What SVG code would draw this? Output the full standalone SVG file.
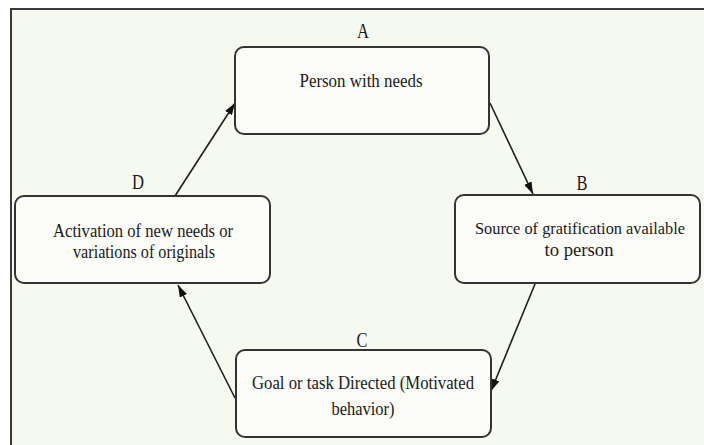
<svg xmlns="http://www.w3.org/2000/svg" width="704" height="445" viewBox="0 0 704 445">
  <defs>
    <style>
      .frame-bg { fill: #f6f9f0; }
      .frame-line { stroke: #3a3a3a; stroke-width: 2; fill: none; }
      .box { fill: #fbfcf7; stroke: #333; stroke-width: 2; }
      .lbl { font-family: "Liberation Serif", "Times New Roman", serif; font-size: 22px; fill: #1a1a1a; text-anchor: middle; }
      .txt { font-family: "Liberation Serif", "Times New Roman", serif; font-size: 18px; fill: #1a1a1a; text-anchor: middle; }
      .txt.sm { font-size: 16px; }
      .conn { stroke: #1e1e1e; stroke-width: 1.6; fill: none; marker-end: url(#arrow); }
    </style>
    <marker id="arrow" viewBox="0 0 12 8" refX="12" refY="4" markerWidth="12" markerHeight="8" markerUnits="userSpaceOnUse" orient="auto">
      <path d="M0,0 L12,4 L0,8 z" fill="#111"/>
    </marker>
  </defs>
  <rect width="704" height="445" fill="#ffffff"/>
  <rect class="frame-bg" x="11" y="9" width="693" height="436"/>
  <path class="frame-line" d="M11,445 L11,9 L704,9"/>

  <g id="connectors">
    <line class="conn" x1="490" y1="103" x2="533" y2="194"/>
    <line class="conn" x1="535" y1="284" x2="491" y2="391"/>
    <line class="conn" x1="235" y1="398" x2="178" y2="285"/>
    <line class="conn" x1="175" y1="196" x2="235" y2="103"/>
  </g>

  <g id="nodeA">
    <text class="lbl" x="363" y="38" textLength="12" lengthAdjust="spacingAndGlyphs">A</text>
    <rect class="box" x="235" y="47" width="254" height="87" rx="9"/>
    <text class="txt" x="361" y="87" textLength="123" lengthAdjust="spacingAndGlyphs">Person with needs</text>
  </g>

  <g id="nodeB">
    <text class="lbl" x="582" y="190" textLength="11" lengthAdjust="spacingAndGlyphs">B</text>
    <rect class="box" x="455" y="195" width="245" height="88" rx="9"/>
    <text class="txt sm" x="580" y="234" textLength="210" lengthAdjust="spacingAndGlyphs">Source of gratification available</text>
    <text class="txt" x="579" y="256" textLength="69" lengthAdjust="spacingAndGlyphs">to person</text>
  </g>

  <g id="nodeC">
    <text class="lbl" x="362" y="347" textLength="11" lengthAdjust="spacingAndGlyphs">C</text>
    <rect class="box" x="236" y="350" width="255" height="87" rx="9"/>
    <text class="txt" x="363" y="389" textLength="222" lengthAdjust="spacingAndGlyphs">Goal or task Directed (Motivated</text>
    <text class="txt" x="363" y="415" textLength="63" lengthAdjust="spacingAndGlyphs">behavior)</text>
  </g>

  <g id="nodeD">
    <text class="lbl" x="138" y="189" textLength="12" lengthAdjust="spacingAndGlyphs">D</text>
    <rect class="box" x="15" y="196" width="255" height="87" rx="9"/>
    <text class="txt" x="143" y="237" textLength="180" lengthAdjust="spacingAndGlyphs">Activation of new needs or</text>
    <text class="txt" x="144" y="258" textLength="142" lengthAdjust="spacingAndGlyphs">variations of originals</text>
  </g>
</svg>
